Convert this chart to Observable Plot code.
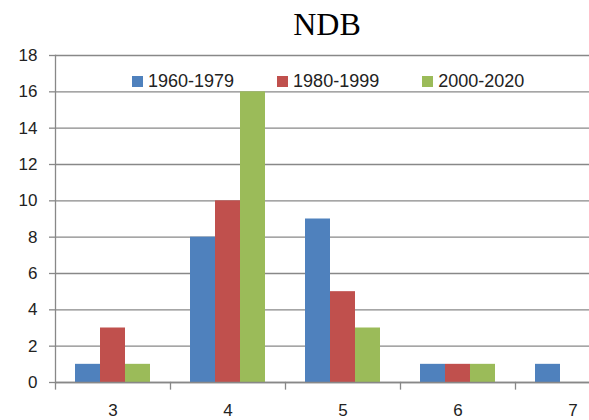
<!DOCTYPE html>
<html>
<head>
<meta charset="utf-8">
<script src="https://cdn.jsdelivr.net/npm/d3@7"></script>
<script src="https://cdn.jsdelivr.net/npm/@observablehq/plot@0.6"></script>
<style>
  html, body { margin: 0; padding: 0; background: #fff; }
  #wrap { position: relative; width: 589px; height: 420px; overflow: hidden; background: #fff; }
  #title { position: absolute; left: 327px; top: 8px; transform: translateX(-50%);
           font: 32px/32px "Liberation Serif", "Times New Roman", serif; color: #000; white-space: nowrap; }
  #legend { position: absolute; left: 132px; top: 71px; display: flex; gap: 43px;
            font: 18px/20px "Liberation Sans", Arial, sans-serif; color: #222; }
  .item { display: flex; align-items: center; gap: 5px; }
  .sw { width: 11px; height: 11px; display: inline-block; }
  #chart { position: absolute; left: 0; top: 0; width: 630px; }
  #chart svg { max-width: none !important; display: block; }
</style>
</head>
<body>
<div id="wrap">
  <div id="chart"></div>
  <div id="title">NDB</div>
  <div id="legend"></div>
</div>
<script>
const categories = ["3", "4", "5", "6", "7"];
const seriesNames = ["1960-1979", "1980-1999", "2000-2020"];
const seriesColors = ["#4F81BD", "#C0504D", "#9BBB59"];
const values1960 = [1, 8, 9, 1, 1];
const values1980 = [3, 10, 5, 1, 0];
const values2000 = [1, 16, 3, 1, 0];
const yTicks = [0, 2, 4, 6, 8, 10, 12, 14, 16, 18];

const seriesValues = [values1960, values1980, values2000];
const data = [];
categories.forEach((c, i) => {
  seriesNames.forEach((s, j) => {
    data.push({category: c, series: s, value: seriesValues[j][i]});
  });
});

const gray = "#888888";
const plot = Plot.plot({
  width: 630,
  height: 420,
  marginLeft: 55,
  marginRight: 0,
  marginTop: 55,
  marginBottom: 38,
  style: {fontFamily: "'Liberation Sans', Arial, sans-serif", fontSize: "17px", color: "#222", background: "#fff", maxWidth: "none"},
  fx: {domain: categories, padding: 0, label: null, axis: null},
  x: {domain: seriesNames, paddingInner: 0, paddingOuter: 0.755, axis: null},
  y: {domain: [0, 18], ticks: yTicks, label: null, axis: null},
  color: {domain: seriesNames, range: seriesColors},
  marks: [
    Plot.gridY(yTicks, {stroke: gray, strokeOpacity: 1, strokeWidth: 1.3}),
    Plot.axisY({ticks: yTicks, tickSize: 6, tickPadding: 12, stroke: gray, strokeOpacity: 1, strokeWidth: 1.3, label: null, fill: "#222"}),
    Plot.axisFx({anchor: "bottom", tickSize: 0, tickPadding: 21, label: null, fill: "#222"}),
    Plot.barY(data, {fx: "category", x: "series", y: "value", fill: "series"}),
    Plot.ruleY([0], {stroke: gray, strokeWidth: 1.3}),
    Plot.frame({anchor: "left", facetAnchor: "left", stroke: gray, strokeWidth: 1.3}),
    Plot.frame({anchor: "left", insetTop: 327, insetBottom: -6.5, stroke: gray, strokeWidth: 1.3})
  ]
});
document.getElementById("chart").appendChild(plot);

const legend = document.getElementById("legend");
seriesNames.forEach((s, j) => {
  const item = document.createElement("div");
  item.className = "item";
  const sw = document.createElement("span");
  sw.className = "sw";
  sw.style.background = seriesColors[j];
  const t = document.createElement("span");
  t.textContent = s;
  item.appendChild(sw);
  item.appendChild(t);
  legend.appendChild(item);
});
</script>
</body>
</html>
